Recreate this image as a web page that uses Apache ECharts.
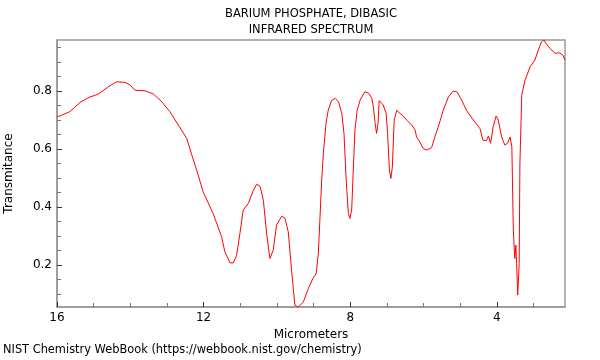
<!DOCTYPE html>
<html>
<head>
<meta charset="utf-8">
<script src="https://cdn.jsdelivr.net/npm/echarts@6/dist/echarts.min.js"></script>
<style>html,body{margin:0;padding:0;background:#fff}#c{width:600px;height:360px}</style>
</head>
<body>
<div id="c"></div>
<script>
const titleLines = ['BARIUM PHOSPHATE, DIBASIC', 'INFRARED SPECTRUM'];
const xLabel = 'Micrometers';
const yLabel = 'Transmitance';
const footer = 'NIST Chemistry WebBook (https://webbook.nist.gov/chemistry)';
const xTickLabels = [16, 12, 8, 4];
const xMinorTicks = [3, 5, 6, 7, 9, 10, 11, 13, 14, 15];
const yTickLabels = [0.2, 0.4, 0.6, 0.8];
const yMinorTicks = [0.1, 0.15, 0.25, 0.3, 0.35, 0.45, 0.5, 0.55, 0.65, 0.7, 0.75, 0.85, 0.9, 0.95];
const xRange = [2.14, 16];
const yRange = [0.056, 0.976];

const wavelength = [16.00,15.87,15.65,15.37,15.15,14.87,14.60,14.37,14.14,14.01,13.87,13.60,13.37,13.14,12.92,12.69,12.46,12.32,12.19,12.10,12.02,11.74,11.51,11.42,11.28,11.19,11.10,11.01,10.92,10.78,10.64,10.55,10.46,10.37,10.28,10.19,10.10,10.01,9.87,9.78,9.69,9.60,9.51,9.42,9.28,9.14,9.02,8.93,8.87,8.83,8.78,8.73,8.66,8.60,8.51,8.41,8.32,8.23,8.17,8.11,8.05,8.01,7.96,7.92,7.87,7.81,7.73,7.60,7.55,7.49,7.41,7.37,7.32,7.28,7.24,7.21,7.16,7.10,7.02,6.98,6.93,6.89,6.85,6.80,6.73,6.64,6.55,6.46,6.32,6.23,6.19,6.10,6.01,5.91,5.87,5.78,5.69,5.60,5.46,5.32,5.19,5.09,4.96,4.82,4.64,4.46,4.38,4.29,4.23,4.17,4.10,4.02,3.96,3.87,3.78,3.71,3.64,3.59,3.55,3.51,3.48,3.46,3.43,3.39,3.37,3.32,3.23,3.09,2.96,2.87,2.78,2.71,2.66,2.55,2.41,2.29,2.20,2.14];
const transmittance = [0.711,0.717,0.729,0.761,0.777,0.790,0.815,0.832,0.830,0.821,0.803,0.801,0.790,0.763,0.729,0.683,0.637,0.579,0.528,0.490,0.455,0.378,0.298,0.246,0.208,0.208,0.234,0.309,0.390,0.413,0.459,0.479,0.472,0.424,0.309,0.223,0.252,0.338,0.369,0.361,0.315,0.183,0.062,0.056,0.073,0.120,0.154,0.171,0.240,0.350,0.490,0.590,0.689,0.734,0.767,0.775,0.763,0.723,0.654,0.493,0.378,0.361,0.390,0.516,0.666,0.734,0.769,0.798,0.803,0.792,0.775,0.746,0.689,0.654,0.689,0.767,0.771,0.752,0.723,0.654,0.528,0.499,0.539,0.700,0.734,0.723,0.714,0.700,0.683,0.666,0.642,0.625,0.602,0.597,0.594,0.605,0.642,0.675,0.735,0.780,0.800,0.798,0.769,0.732,0.700,0.671,0.631,0.629,0.645,0.620,0.677,0.714,0.700,0.642,0.614,0.620,0.642,0.608,0.321,0.223,0.269,0.206,0.097,0.206,0.551,0.786,0.838,0.884,0.907,0.941,0.970,0.976,0.964,0.947,0.930,0.932,0.924,0.907];

const FONT = 'DejaVu Sans';
const chart = echarts.init(document.getElementById('c'), null, {renderer: 'canvas'});
const grid = {left: 57, right: 35, top: 40, bottom: 53, show: true, borderColor: '#999', borderWidth: 1.5,
              backgroundColor: 'transparent', containLabel: false, outerBoundsMode: 'none'};
chart.setOption({
  animation: false,
  textStyle: {fontFamily: FONT},
  title: [
    {text: titleLines.join('\n'), left: 311, top: 6, padding: 0, textAlign: 'center',
     textStyle: {fontSize: 11.5, fontWeight: 'normal', color: '#000', lineHeight: 16, fontFamily: FONT}},
    {text: footer, left: 3, top: 345, padding: 0,
     textStyle: {fontSize: 11.4, fontWeight: 'normal', color: '#000', fontFamily: FONT}}
  ],
  grid: grid,
  xAxis: [
    {type: 'value', inverse: true, min: xRange[0], max: xRange[1],
     name: xLabel, nameLocation: 'middle', nameGap: 18,
     nameTextStyle: {fontSize: 12, color: '#000', fontFamily: FONT},
     axisLine: {show: true, lineStyle: {color: '#999', width: 1.5}},
     axisTick: {show: true, inside: true, length: 5, customValues: xTickLabels, lineStyle: {color: '#333'}},
     axisLabel: {customValues: xTickLabels, fontSize: 12, color: '#000', margin: 5, fontFamily: FONT},
     splitLine: {show: false}},
    {type: 'value', inverse: true, min: xRange[0], max: xRange[1], position: 'bottom',
     axisLine: {show: false},
     axisTick: {show: true, inside: true, length: 4, customValues: xMinorTicks, lineStyle: {color: '#777'}},
     axisLabel: {show: false}, splitLine: {show: false}}
  ],
  yAxis: [
    {type: 'value', min: yRange[0], max: yRange[1],
     name: yLabel, nameLocation: 'middle', nameGap: 42,
     nameTextStyle: {fontSize: 12, color: '#000', fontFamily: FONT},
     axisLine: {show: true, lineStyle: {color: '#999', width: 1.5}},
     axisTick: {show: true, inside: true, length: 5, customValues: yTickLabels, lineStyle: {color: '#333'}},
     axisLabel: {customValues: yTickLabels, fontSize: 12, color: '#000', margin: 5, fontFamily: FONT,
                 formatter: v => v.toFixed(1)},
     splitLine: {show: false}},
    {type: 'value', min: yRange[0], max: yRange[1], position: 'left',
     axisLine: {show: false},
     axisTick: {show: true, inside: true, length: 4, customValues: yMinorTicks, lineStyle: {color: '#777'}},
     axisLabel: {show: false}, splitLine: {show: false}}
  ],
  series: [{
    type: 'line', xAxisIndex: 0, yAxisIndex: 0,
    data: wavelength.map((w, i) => [w, transmittance[i]]),
    showSymbol: false, symbol: 'none', smooth: false,
    lineStyle: {color: '#ff0000', width: 1},
    clip: true
  }]
});
</script>
</body>
</html>
